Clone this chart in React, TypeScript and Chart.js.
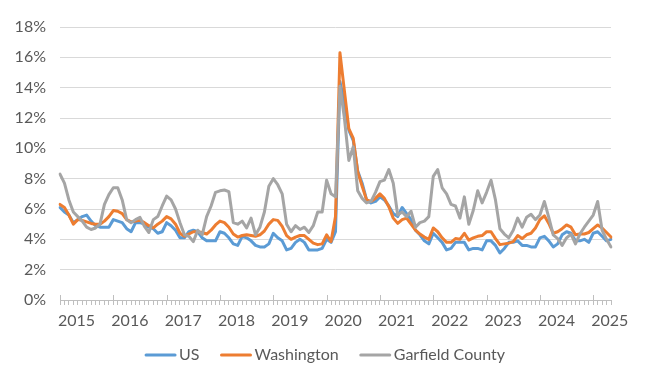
import React, { useEffect, useRef } from 'react';
import { Chart, registerables } from 'chart.js';

Chart.register(...registerables);

// ---- data ----
const startYear = 2015;
const yearLabels = ['2015', '2016', '2017', '2018', '2019', '2020', '2021', '2022', '2023', '2024', '2025'];
const yTickValues = [0, 2, 4, 6, 8, 10, 12, 14, 16, 18];
const seriesNames = ['US', 'Washington', 'Garfield County'];

const usRate = [
  6.1, 5.8, 5.6, 5.1, 5.3, 5.5, 5.6, 5.2, 4.9, 4.8, 4.8, 4.8,
  5.3, 5.2, 5.1, 4.7, 4.5, 5.1, 5.1, 5.0, 4.8, 4.7, 4.4, 4.5,
  5.1, 4.9, 4.6, 4.1, 4.1, 4.5, 4.6, 4.5, 4.1, 3.9, 3.9, 3.9,
  4.5, 4.4, 4.1, 3.7, 3.6, 4.2, 4.1, 3.9, 3.6, 3.5, 3.5, 3.7,
  4.4, 4.1, 3.9, 3.3, 3.4, 3.8, 4.0, 3.8, 3.3, 3.3, 3.3, 3.4,
  4.0, 3.8, 4.5, 14.4, 13.0, 11.2, 10.5, 8.5, 7.7, 6.6, 6.4, 6.5,
  6.8, 6.6, 6.2, 5.7, 5.5, 6.1, 5.7, 5.3, 4.6, 4.3, 3.9, 3.7,
  4.4, 4.1, 3.8, 3.3, 3.4, 3.8, 3.8, 3.8, 3.3, 3.4, 3.4, 3.3,
  3.9, 3.9, 3.6, 3.1, 3.4, 3.8, 3.8, 3.9, 3.6, 3.6, 3.5, 3.5,
  4.1, 4.2, 3.9, 3.5, 3.7, 4.3, 4.5, 4.4, 3.9, 3.9, 4.0, 3.8,
  4.4, 4.5, 4.2, 3.9, 4.0,
];

const washingtonRate = [
  6.3, 6.1, 5.6, 5.0, 5.3, 5.25, 5.15, 5.05, 5.0, 5.0, 5.2, 5.5,
  5.9, 5.85, 5.7, 5.3, 5.15, 5.2, 5.25, 5.1, 4.9, 4.75, 5.0, 5.2,
  5.5, 5.35, 5.0, 4.4, 4.2, 4.35, 4.5, 4.5, 4.45, 4.35, 4.6, 4.95,
  5.2, 5.1, 4.8, 4.35, 4.15, 4.25, 4.3, 4.25, 4.2, 4.3, 4.55, 5.0,
  5.3, 5.25, 4.85, 4.25, 4.0, 4.15, 4.25, 4.25, 4.0, 3.75, 3.65, 3.7,
  4.3, 3.85, 5.5, 16.3, 13.8, 11.3, 10.65, 8.45, 7.5, 6.6, 6.5, 6.7,
  7.0, 6.7, 6.15, 5.4, 5.05, 5.3, 5.4, 5.0, 4.6, 4.35, 4.15, 4.0,
  4.75, 4.5, 4.1, 3.8, 3.8, 4.05, 4.0, 4.4, 3.95, 4.1, 4.2, 4.25,
  4.5, 4.5, 4.05, 3.65, 3.7, 3.75, 3.85, 4.25, 4.05, 4.3, 4.4, 4.75,
  5.3, 5.55, 5.05, 4.4, 4.5, 4.7, 4.95, 4.8, 4.3, 4.35, 4.35, 4.45,
  4.7, 4.95, 4.75, 4.45, 4.15,
];

const garfieldRate = [
  8.3, 7.7, 6.6, 5.8, 5.5, 5.2, 4.8, 4.65, 4.75, 5.0, 6.3, 6.95,
  7.4, 7.4, 6.6, 5.3, 5.1, 5.3, 5.45, 4.85, 4.45, 5.3, 5.5, 6.2,
  6.85, 6.6, 6.0, 5.1, 4.3, 4.2, 3.85, 4.6, 4.3, 5.5, 6.2, 7.1,
  7.2, 7.25, 7.15, 5.1, 5.0, 5.2, 4.75, 5.4, 4.3, 4.8, 5.8, 7.5,
  8.0, 7.6, 7.0, 5.0, 4.5, 4.9, 4.65, 4.8, 4.45, 4.9, 5.8, 5.8,
  7.9, 7.0, 6.8, 14.1, 12.0, 9.2, 10.1, 7.2, 6.7, 6.4, 6.5, 7.1,
  7.8, 7.9, 8.6, 7.7, 5.6, 5.8, 5.5, 5.85, 4.8, 5.1, 5.2, 5.5,
  8.15, 8.6, 7.4, 7.0, 6.3, 6.2, 5.4, 6.8, 5.0, 5.9, 7.2, 6.4,
  7.1, 7.9, 6.6, 4.7, 4.35, 4.1, 4.6, 5.4, 4.8, 5.45, 5.65, 5.3,
  5.6, 6.5, 5.45, 4.3, 4.05, 3.6, 4.1, 4.35, 3.7, 4.35, 4.8, 5.2,
  5.6, 6.5, 4.6, 4.0, 3.5,
];

// month categories (one per data point)
const months: string[] = usRate.map((_, i) => `${startYear + Math.floor(i / 12)}-${String((i % 12) + 1).padStart(2, '0')}`);

// ---- styles ----
const COLORS = ['#5B9BD5', '#ED7D31', '#A5A5A5'];
const TEXT_COLOR = '#595959';
const GRID_COLOR = '#D9D9D9';
const AXIS_COLOR = '#BFBFBF';
const FONT_FAMILY = 'Lato, "Open Sans", sans-serif';
const FONT_SIZE = 16;

const majorTickPlugin = {
  id: 'majorTicks',
  afterDatasetsDraw(chart: any) {
    const { ctx, chartArea, scales } = chart;
    const xs = scales.x;
    ctx.save();
    ctx.strokeStyle = AXIS_COLOR;
    ctx.lineWidth = 1;
    months.forEach((_, i) => {
      if (i % 12 !== 0) return;
      const px = Math.round(xs.getPixelForValue(i)) + 0.5;
      ctx.beginPath();
      ctx.moveTo(px, chartArea.bottom - 5);
      ctx.lineTo(px, chartArea.bottom);
      ctx.stroke();
    });
    ctx.restore();
  },
};

const legendPlugin = {
  id: 'lineLegend',
  afterDraw(chart: any) {
    const ctx = chart.ctx;
    ctx.save();
    ctx.font = `${FONT_SIZE}px ${FONT_FAMILY}`;
    const lineW = 31;
    const gap = 3;
    const itemGap = 21;
    const items = seriesNames.map((n, i) => ({ n, c: COLORS[i], w: ctx.measureText(n).width }));
    const total = items.reduce((s, it) => s + lineW + gap + it.w, 0) + itemGap * (items.length - 1);
    let x = chart.width / 2 - total / 2;
    const y = chart.height - 24;
    items.forEach((it) => {
      ctx.strokeStyle = it.c;
      ctx.lineWidth = 3;
      ctx.lineCap = 'round';
      ctx.beginPath();
      ctx.moveTo(x + 1, y);
      ctx.lineTo(x + lineW - 1, y);
      ctx.stroke();
      ctx.fillStyle = TEXT_COLOR;
      ctx.textBaseline = 'middle';
      ctx.textAlign = 'left';
      ctx.fillText(it.n, x + lineW + gap, y);
      x += lineW + gap + it.w + itemGap;
    });
    ctx.restore();
  },
};

export default function App() {
  const canvasRef = useRef<HTMLCanvasElement | null>(null);

  useEffect(() => {
    if (!canvasRef.current) return;
    const series = [usRate, washingtonRate, garfieldRate];
    const chart = new Chart(canvasRef.current, {
      type: 'line',
      data: {
        labels: months,
        datasets: series.map((d, i) => ({
          label: seriesNames[i],
          data: d,
          borderColor: COLORS[i],
          backgroundColor: COLORS[i],
          borderWidth: 3,
          pointRadius: 0,
          pointHoverRadius: 0,
          tension: 0,
          borderJoinStyle: 'round' as const,
          borderCapStyle: 'round' as const,
          fill: false,
          order: 2 - i,
        })),
      },
      options: {
        animation: false,
        responsive: false,
        devicePixelRatio: 1,
        layout: { padding: { left: 0, right: 39, top: 27, bottom: 49 } },
        plugins: {
          legend: { display: false },
          tooltip: { enabled: false },
        },
        scales: {
          x: {
            type: 'category',
            offset: false,
            grid: {
              display: true,
              drawOnChartArea: false,
              drawTicks: true,
              tickLength: 5,
              color: AXIS_COLOR,
            },
            border: { display: true, color: AXIS_COLOR, width: 1 },
            ticks: {
              autoSkip: false,
              maxRotation: 0,
              minRotation: 0,
              align: 'start',
              labelOffset: -2,
              padding: 6,
              color: TEXT_COLOR,
              font: { family: FONT_FAMILY, size: FONT_SIZE },
              callback: (_v: any, idx: number) => (idx % 12 === 0 ? yearLabels[idx / 12] : ''),
            },
            afterFit: (scale: any) => {
              scale.height = 30;
            },
          },
          y: {
            min: yTickValues[0],
            max: yTickValues[yTickValues.length - 1],
            afterBuildTicks: (scale: any) => {
              scale.ticks = yTickValues.map((v) => ({ value: v }));
            },
            grid: { color: GRID_COLOR, drawTicks: false, lineWidth: 1 },
            border: { display: false },
            ticks: {
              padding: 14,
              color: TEXT_COLOR,
              font: { family: FONT_FAMILY, size: FONT_SIZE },
              callback: (v: any) => `${v}%`,
            },
            afterFit: (scale: any) => {
              scale.width = 60;
            },
          },
        },
      },
      plugins: [majorTickPlugin, legendPlugin],
    });
    return () => chart.destroy();
  }, []);

  return (
    <div style={{ position: 'absolute', left: 0, top: 0, width: 650, height: 379, background: '#fff' }}>
      <canvas ref={canvasRef} width={650} height={379} />
    </div>
  );
}
